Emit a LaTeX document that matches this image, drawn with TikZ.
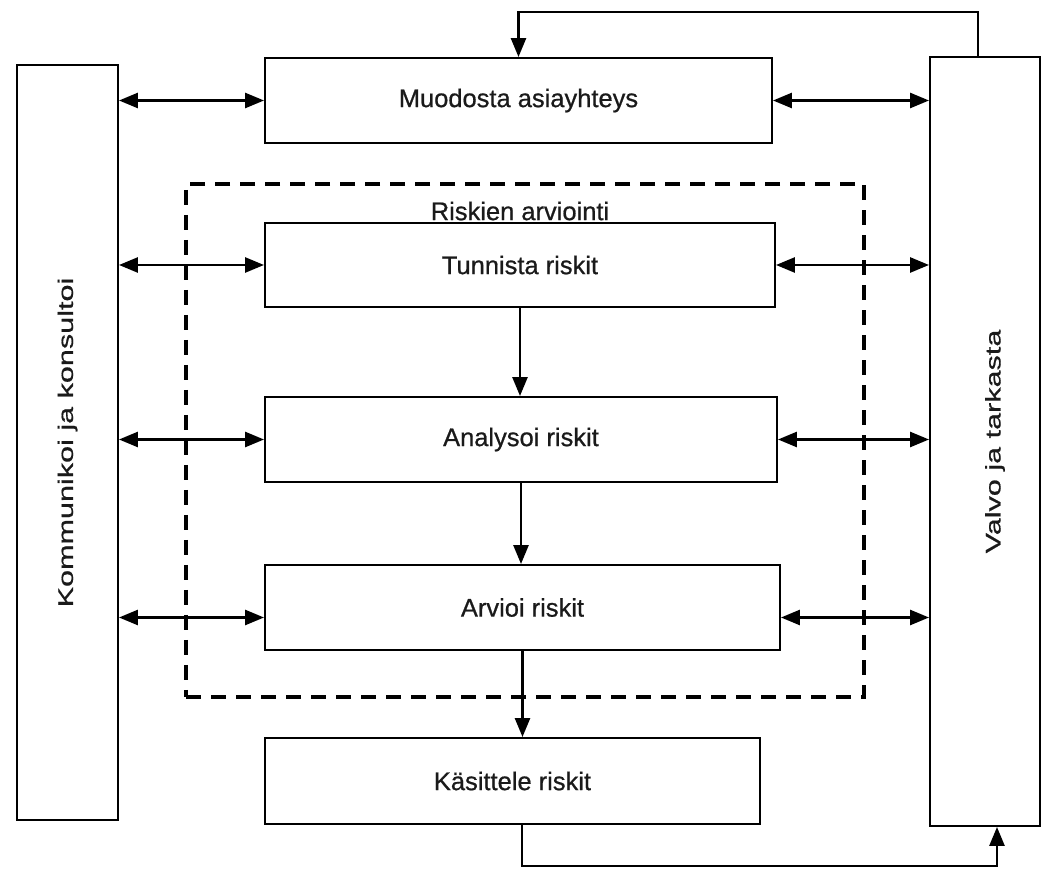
\documentclass[tikz,border=0pt]{standalone}
\usepackage{fontspec}
\setmainfont[FakeBold=0.7]{Liberation Sans}
\newfontfamily\plainsans[FakeBold=0.7]{Liberation Sans}
\newfontfamily\widesans[FakeStretch=1.45, FakeBold=0.7]{Liberation Sans}
\usepackage{tikz}
\usetikzlibrary{arrows.meta}

\definecolor{ink}{HTML}{1A1A1A}

\tikzset{
    box/.style = {draw, line width = 1.1pt, minimum height = 1.7cm,
        text = ink, font = \plainsans\fontsize{14.5}{16}\selectfont},
    bar/.style = {draw, line width = 1.1pt},
    vtext/.style = {rotate = 90, text = ink, font = \widesans\fontsize{12}{14}\selectfont},
    flow/.style = {line width = 1.5pt, -{Triangle[length=0.38cm, width=0.3cm]}},
    twoway/.style = {line width = 1.5pt,
        {Triangle[length=0.38cm, width=0.3cm]}-{Triangle[length=0.38cm, width=0.3cm]}},
}

\begin{document}
\begin{tikzpicture}
    \useasboundingbox (0, 0) rectangle (21, 17.4);

    %% risk assessment frame
    \node[draw, line width = 1.8pt, dash pattern = on 0.3cm off 0.2cm,
        minimum width = 13.56cm, minimum height = 10.26cm] (arvio) at (10.5, 8.59) {};
    \node[text = ink, font = \plainsans\fontsize{14.5}{16}\selectfont] (arviolbl) at (10.4, 13.18) {Riskien arviointi};

    %% side bars
    \node[bar, minimum width = 2.02cm, minimum height = 15.1cm] (komm) at (1.35, 8.55) {};
    \node[vtext] (kommtext) at (komm.center) {Kommunikoi ja konsultoi};
    \node[bar, minimum width = 2.2cm, minimum height = 15.38cm] (valvo) at (19.7, 8.57) {};
    \node[vtext] (valvotext) at ([xshift = 0.2cm]valvo.center) {Valvo ja tarkasta};

    %% process steps
    \node[box, minimum width = 10.14cm] (muod) at (10.37, 15.39) {Muodosta asiayhteys};
    \node[box, minimum width = 10.2cm, minimum height = 1.68cm] (tun) at (10.4, 12.1) {Tunnista riskit};
    \node[box, minimum width = 10.24cm] (ana) at (10.42, 8.61) {Analysoi riskit};
    \node[box, minimum width = 10.3cm] (arv) at (10.45, 5.25) {Arvioi riskit};
    \node[box, minimum width = 9.9cm, minimum height = 1.72cm] (kas) at (10.25, 1.78) {Käsittele riskit};

    %% steps downwards
    \draw[flow] (tun.south) -- (tun.south |- ana.north);
    \draw[flow] (ana.south) -- (ana.south |- arv.north);
    \draw[flow] (arv.south) -- (arv.south |- kas.north);

    %% links to the bars
    \foreach \s in {muod, tun, ana} {
        \draw[twoway] (\s.west -| komm.east) -- (\s.west);
        \draw[twoway] (\s.east) -- (\s.east -| valvo.west);
    }
    \draw[twoway] ([yshift = -0.2cm]arv.west -| komm.east) -- ([yshift = -0.2cm]arv.west);
    \draw[twoway] ([yshift = -0.2cm]arv.east) -- ([yshift = -0.2cm]arv.east -| valvo.west);

    %% feedback loops
    \coordinate (topr) at (19.56, 17.16);
    \draw[flow] (valvo.north -| topr) -- (topr) -| (muod.north);
    \coordinate (botr) at (19.94, 0.08);
    \draw[flow] ([xshift = 0.19cm]kas.south) |- (botr) -- (valvo.south -| botr);
\end{tikzpicture}
\end{document}
